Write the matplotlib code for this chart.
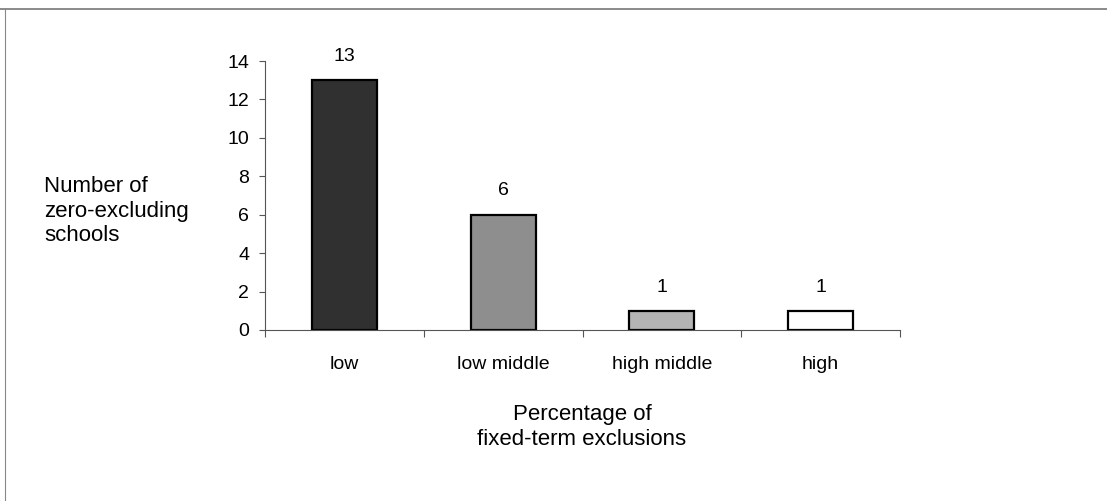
import matplotlib.pyplot as plt
from matplotlib.lines import Line2D

plt.rcParams['font.family'] = ['Liberation Sans', 'DejaVu Sans']

categories = ["low", "low middle", "high middle", "high"]
counts = [13, 6, 1, 1]
bar_colors = ["#303030", "#8e8e8e", "#b4b4b4", "#ffffff"]

fig = plt.figure(figsize=(11.07, 5.01), dpi=100)
ax = fig.add_axes([265 / 1107, 1 - 330 / 501, 635 / 1107, 269 / 501])

x = range(len(categories))
ax.bar(x, counts, width=0.41, color=bar_colors, edgecolor="black", linewidth=1.6)

for xi, v in zip(x, counts):
    ax.annotate(str(v), (xi, v), xytext=(0, 11), textcoords="offset points",
                ha="center", va="bottom", fontsize=14)

ax.set_xlim(-0.5, 3.5)
ax.set_ylim(0, 14)
ax.set_yticks(range(0, 15, 2))
ax.set_xticks(list(x))
ax.set_xticklabels(categories, fontsize=14)
ax.set_xticks([i - 0.5 for i in range(len(categories) + 1)], minor=True)
ax.tick_params(axis="x", which="major", length=0, pad=19)
ax.tick_params(axis="x", which="minor", length=5, width=0.8, color="#555555", direction="out")
ax.tick_params(axis="y", length=4.5, width=0.8, color="#555555", pad=7, labelsize=14)

for side in ["top", "right"]:
    ax.spines[side].set_visible(False)
for side in ["left", "bottom"]:
    ax.spines[side].set_color("#555555")
    ax.spines[side].set_linewidth(0.8)

fig.text(44 / 1107, 1 - 211 / 501, "Number of\nzero-excluding\nschools",
         ha="left", va="center", fontsize=16, linespacing=1.2)
fig.text(582 / 1107, 1 - 427 / 501, "Percentage of\nfixed-term exclusions",
         ha="center", va="center", fontsize=16, linespacing=1.3)

# scanned frame: top and left edges
fig.add_artist(Line2D([0, 1], [1 - 9 / 501, 1 - 9 / 501], transform=fig.transFigure,
                      color="#777777", linewidth=1.2))
fig.add_artist(Line2D([5 / 1107, 5 / 1107], [0, 1 - 9 / 501], transform=fig.transFigure,
                      color="#888888", linewidth=0.8))

fig.savefig("out.png", dpi=100)
